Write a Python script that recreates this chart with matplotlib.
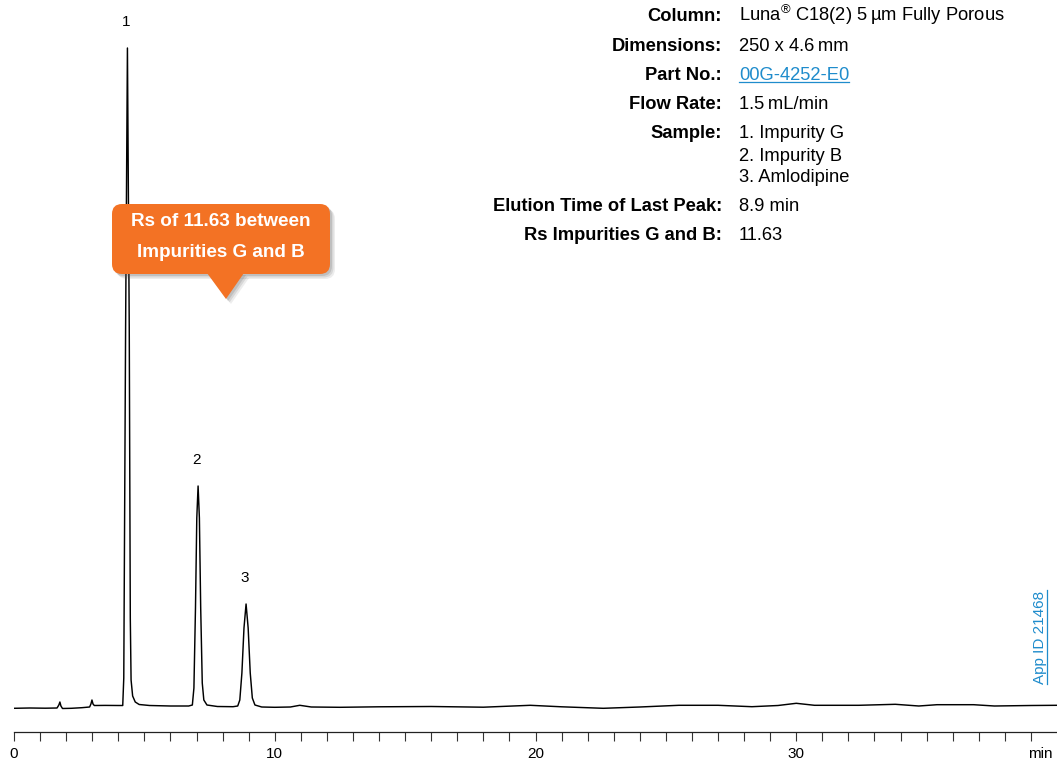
import matplotlib
matplotlib.use("Agg")
import matplotlib.pyplot as plt
from matplotlib.patches import FancyBboxPatch, Polygon
from matplotlib.lines import Line2D
from matplotlib.transforms import IdentityTransform

# ---------------------------------------------------------------------------
# Chromatogram data: retention time (min) and detector response (mAU)
# ---------------------------------------------------------------------------
time_min = [
    0.0, 0.6, 1.2, 1.65, 1.72, 1.76, 1.80, 1.86, 2.2, 2.6, 2.9, 2.95, 2.99,
    3.03, 3.08, 3.5, 4.0, 4.17, 4.21, 4.28, 4.35, 4.42, 4.46, 4.49, 4.55,
    4.65, 4.8, 5.2, 6.0, 6.7, 6.84, 6.90, 6.96, 7.01, 7.06, 7.11, 7.16, 7.22,
    7.28, 7.4, 7.8, 8.4, 8.58, 8.66, 8.74, 8.82, 8.9, 8.98, 9.06, 9.14, 9.24,
    9.5, 10.0, 10.6, 10.96, 11.4, 12.5, 14.0, 16.0, 18.0, 19.8, 21.0, 22.6,
    24.0, 25.5, 27.0, 28.3, 29.3, 30.0, 30.7, 32.4, 33.8, 34.7, 35.4, 36.8,
    37.6, 39.0, 40.0,
]
signal_mau = [
    -0.3, 0.0, -0.2, 0.0, 3.0, 6.0, 2.0, -0.5, -0.3, 0.3, 1.0, 4.0, 8.0,
    4.0, 2.5, 2.6, 2.5, 2.5, 30.0, 380.0, 660.0, 380.0, 90.0, 28.0, 12.0,
    6.0, 3.5, 2.5, 2.0, 2.0, 3.0, 20.0, 100.0, 190.0, 222.0, 190.0, 100.0, 25.0,
    8.0, 3.0, 1.5, 1.3, 2.0, 8.0, 35.0, 80.0, 104.0, 80.0, 35.0, 10.0, 3.0,
    1.0, 0.7, 1.0, 2.7, 1.0, 0.7, 1.2, 1.5, 0.8, 2.7, 1.2, -0.3,
    1.0, 2.7, 2.7, 1.3, 2.5, 4.7, 2.7, 2.7, 3.7, 2.0, 3.3, 3.3,
    2.0, 2.5, 2.7,
]

# Peak identification
peak_labels = ["1", "2", "3"]
peak_times = [4.35, 7.06, 8.9]
peak_heights = [660.0, 222.0, 104.0]

# Axis ticks
minor_ticks = list(range(0, 40))
major_ticks = [0, 10, 20, 30]
axis_unit = "min"

# Method conditions
cond_labels = ["Column:", "Dimensions:", "Part No.:", "Flow Rate:", "Sample:",
               "Elution Time of Last Peak:", "Rs Impurities G and B:"]
cond_values = ["Luna$^{\\circledR}$ C18(2) 5\u2009\u00b5m Fully Porous",
               "250 x 4.6\u2009mm", "00G-4252-E0", "1.5\u2009mL/min",
               "1. Impurity G", "8.9 min", "11.63"]
sample_extra = ["2. Impurity B", "3. Amlodipine"]

callout_lines = ["Rs of 11.63 between", "Impurities G and B"]
app_id = "App ID 21468"

# ---------------------------------------------------------------------------
W, H, DPI = 1057, 762, 100
BLUE = "#1f8ccc"
ORANGE = "#f37224"
SANS = ["Liberation Sans", "DejaVu Sans"]

plt.rcParams["font.family"] = SANS
plt.rcParams["mathtext.fontset"] = "custom"
plt.rcParams["mathtext.rm"] = "Liberation Sans"
plt.rcParams["mathtext.it"] = "Liberation Sans:italic"
plt.rcParams["mathtext.bf"] = "Liberation Sans:bold"

fig = plt.figure(figsize=(W / DPI, H / DPI), dpi=DPI)


def fx(px):
    return px / W


def fy(py):
    return 1 - py / H


# Chromatogram axes (x: 0-40 min, bottom spine at the time axis)
ax = fig.add_axes([fx(14), 30 / H, 1043 / W, 732 / H])
ax.set_xlim(0, 40)
ax.set_ylim(-24, 708)
ax.plot(time_min, signal_mau, color="black", lw=1.05, solid_joinstyle="round")

for side in ("left", "right", "top"):
    ax.spines[side].set_visible(False)
ax.spines["bottom"].set_linewidth(0.9)
ax.spines["bottom"].set_color("#222222")
ax.set_yticks([])
ax.set_xticks(minor_ticks)
ax.set_xticklabels([str(t) if t in major_ticks else "" for t in minor_ticks])
ax.tick_params(axis="x", direction="out", length=6.8, width=0.8,
               color="#333333", pad=4.3, labelsize=11)
ax.set_facecolor("none")
fig.text(fx(1053), fy(747.5), axis_unit, ha="right", va="top", fontsize=11)

for lab, t, h in zip(peak_labels, peak_times, peak_heights):
    ax.annotate(lab, (t, h), xytext=(-1.2, 19), textcoords="offset points",
                ha="center", va="center", fontsize=11)

# Method conditions block
row_y = [14, 44, 73, 102, 131, 204, 233]
extra_y = [154, 175]
label_x, value_x = 722, 739
cap_half = 6.6
fs = 13.2
fig.canvas.draw()
renderer = fig.canvas.get_renderer()
for lab, val, y in zip(cond_labels, cond_values, row_y):
    fig.text(fx(label_x), fy(y + cap_half), lab, ha="right", va="baseline",
             fontsize=fs, fontweight="bold")
    color = BLUE if lab.startswith("Part") else "black"
    t = fig.text(fx(value_x), fy(y + cap_half), val, ha="left",
                 va="baseline", fontsize=fs, color=color)
    if lab.startswith("Part"):
        bb = t.get_window_extent(renderer)
        yb = H - (y + cap_half + 2.2)
        fig.add_artist(Line2D([bb.x0, bb.x1], [yb, yb], color=BLUE, lw=0.9,
                              transform=IdentityTransform()))
for val, y in zip(sample_extra, extra_y):
    fig.text(fx(value_x), fy(y + cap_half), val, ha="left", va="baseline",
             fontsize=fs)

# Callout bubble with soft shadow
inch = fig.dpi_scale_trans
bx0, bx1, by0, by1 = 112, 330, 204, 274
tip = (226, 299)
tri_x0, tri_x1 = 207, 244


def bubble(dx, dy, color, alpha, z):
    box = FancyBboxPatch((bx0 / DPI + dx, (H - by1) / DPI + dy),
                         (bx1 - bx0) / DPI, (by1 - by0) / DPI,
                         boxstyle="round,pad=0,rounding_size=0.10",
                         transform=inch, facecolor=color, edgecolor="none",
                         alpha=alpha, zorder=z)
    tri = Polygon([(tri_x0 / DPI + dx, (H - by1) / DPI + dy + 0.01),
                   (tri_x1 / DPI + dx, (H - by1) / DPI + dy + 0.01),
                   (tip[0] / DPI + dx, (H - tip[1]) / DPI + dy)],
                  closed=True, transform=inch, facecolor=color,
                  edgecolor="none", alpha=alpha, zorder=z)
    fig.add_artist(box)
    fig.add_artist(tri)


for k, a in ((0.05, 0.10), (0.035, 0.14), (0.02, 0.18)):
    bubble(k, -k, "#555555", a, 5)
bubble(0, 0, ORANGE, 1.0, 6)

cx = (bx0 + bx1) / 2
for line, y in zip(callout_lines, [222, 252]):
    fig.text(fx(cx), fy(y), line, ha="center", va="center", fontsize=13.6,
             fontweight="bold", color="white", zorder=7)

# Application ID, rotated and underlined
aid = fig.text(fx(1044), fy(637), app_id, rotation=90, rotation_mode="anchor",
               ha="center", va="baseline", fontsize=11, color=BLUE)
bb = aid.get_window_extent(renderer)
xu = 1046.5
fig.add_artist(Line2D([xu, xu], [bb.y0, bb.y1], color=BLUE, lw=0.9,
                      transform=IdentityTransform()))

fig.savefig("out.png", dpi=DPI)
